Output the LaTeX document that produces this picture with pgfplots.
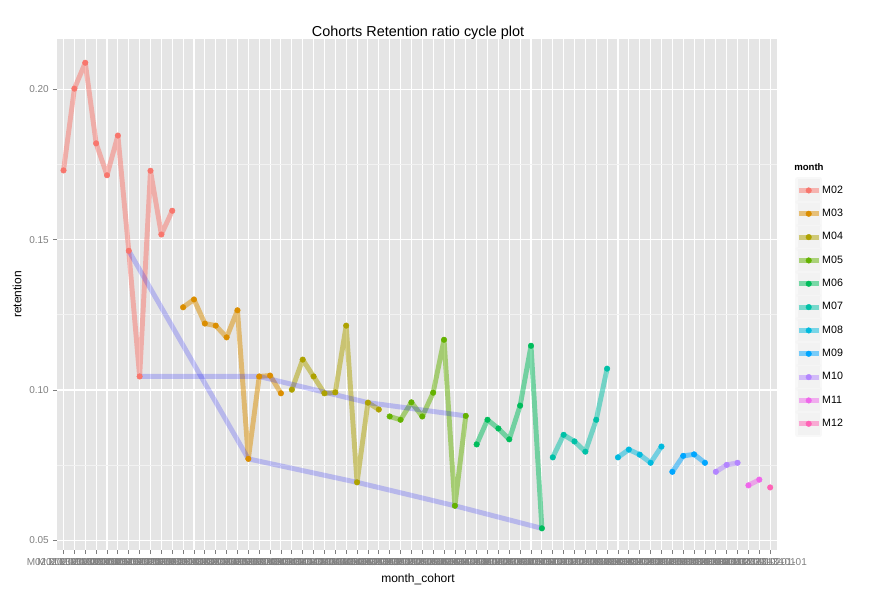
\documentclass[border=0pt]{standalone}
\usepackage{fontspec}
\setmainfont{Liberation Sans}
\usepackage{pgfplots}
\pgfplotsset{compat=1.18}
\definecolor{c02}{HTML}{F8766D}
\definecolor{c03}{HTML}{DB8E00}
\definecolor{c04}{HTML}{AEA200}
\definecolor{c05}{HTML}{64B200}
\definecolor{c06}{HTML}{00BD5C}
\definecolor{c07}{HTML}{00C1A7}
\definecolor{c08}{HTML}{00BADE}
\definecolor{c09}{HTML}{00A6FF}
\definecolor{c10}{HTML}{B385FF}
\definecolor{c11}{HTML}{EF67EB}
\definecolor{c12}{HTML}{FF63B6}
\definecolor{panelbg}{HTML}{E5E5E5}
\definecolor{gridminor}{HTML}{F2F2F2}
\definecolor{legbg}{HTML}{F2F2F2}
\definecolor{tickgray}{HTML}{7F7F7F}
\pgfplotsset{ser/.style={color=#1, line width=3.7pt, draw opacity=0.5, line join=round,
  mark=*, mark size=2.1pt, mark options={line width=0.3pt, draw opacity=1, fill opacity=1, fill=#1, draw=#1}}}
\begin{document}
\begin{tikzpicture}
\useasboundingbox (0,0) rectangle (657.75pt,447.75pt);
\begin{axis}[
  at={(42.75pt,35.25pt)}, anchor=south west,
  scale only axis, width=539.775pt, height=383.25pt,
  xmin=-0.6, xmax=65.6, ymin=0.0468, ymax=0.2167,
  axis background/.style={fill=panelbg},
  axis line style={draw=none},
  xtick={0,...,65},
  xticklabels={M02.2013-01-01,M02.2013-02-01,M02.2013-03-01,M02.2013-04-01,M02.2013-05-01,M02.2013-06-01,M02.2013-07-01,M02.2013-08-01,M02.2013-09-01,M02.2013-10-01,M02.2013-11-01,
  M03.2013-01-01,M03.2013-02-01,M03.2013-03-01,M03.2013-04-01,M03.2013-05-01,M03.2013-06-01,M03.2013-07-01,M03.2013-08-01,M03.2013-09-01,M03.2013-10-01,
  M04.2013-01-01,M04.2013-02-01,M04.2013-03-01,M04.2013-04-01,M04.2013-05-01,M04.2013-06-01,M04.2013-07-01,M04.2013-08-01,M04.2013-09-01,
  M05.2013-01-01,M05.2013-02-01,M05.2013-03-01,M05.2013-04-01,M05.2013-05-01,M05.2013-06-01,M05.2013-07-01,M05.2013-08-01,
  M06.2013-01-01,M06.2013-02-01,M06.2013-03-01,M06.2013-04-01,M06.2013-05-01,M06.2013-06-01,M06.2013-07-01,
  M07.2013-01-01,M07.2013-02-01,M07.2013-03-01,M07.2013-04-01,M07.2013-05-01,M07.2013-06-01,
  M08.2013-01-01,M08.2013-02-01,M08.2013-03-01,M08.2013-04-01,M08.2013-05-01,
  M09.2013-01-01,M09.2013-02-01,M09.2013-03-01,M09.2013-04-01,
  M10.2013-01-01,M10.2013-02-01,M10.2013-03-01,
  M11.2013-01-01,M11.2013-02-01,
  M12.2013-01-01},
  ytick={0.05,0.10,0.15,0.20}, yticklabels={0.05,0.10,0.15,0.20},
  minor ytick={0.075,0.125,0.175},
  xmajorgrids, ymajorgrids, yminorgrids,
  major grid style={white, line width=0.8pt},
  minor grid style={gridminor, line width=0.5pt},
  tick align=outside, major tick length=3pt, minor tick length=0pt,
  tick style={tickgray, line width=0.6pt},
  xtick pos=left, ytick pos=left,
  ticklabel style={font=\fontsize{7.5}{8}\selectfont, text=tickgray, inner sep=0pt},
  xticklabel style={anchor=north, yshift=-3pt},
  yticklabel style={anchor=east, xshift=-3pt},
  legend cell align=left,
  legend style={at={(1.0254,0.7305)}, anchor=north west, draw=none, fill=none, inner sep=0pt,
    row sep=-2.7pt, font=\fontsize{8}{9}\selectfont, nodes={inner sep=0pt},
    /tikz/every even column/.append style={column sep=2.5pt}},
  legend image code/.code={
    \fill[legbg] (0pt,-8.25pt) rectangle (16.5pt,8.25pt);
    \draw[mark repeat=2,mark phase=2,#1] plot coordinates {(0.75pt,0pt) (8.25pt,0pt) (15.75pt,0pt)};
  },
]
\addplot[ser=c02] coordinates {(0,0.1730)(1,0.2002)(2,0.2088)(3,0.1820)(4,0.1714)(5,0.1846)(6,0.1463)(7,0.1045)(8,0.1729)(9,0.1517)(10,0.1596)};
\addlegendentry{M02}
\addplot[ser=c03] coordinates {(11,0.1275)(12,0.1301)(13,0.1221)(14,0.1214)(15,0.1175)(16,0.1265)(17,0.0771)(18,0.1045)(19,0.1048)(20,0.0989)};
\addlegendentry{M03}
\addplot[ser=c04] coordinates {(21,0.1001)(22,0.1101)(23,0.1045)(24,0.0989)(25,0.0992)(26,0.1214)(27,0.0693)(28,0.0958)(29,0.0935)};
\addlegendentry{M04}
\addplot[ser=c05] coordinates {(30,0.0912)(31,0.0901)(32,0.0959)(33,0.0912)(34,0.0991)(35,0.1167)(36,0.0615)(37,0.0914)};
\addlegendentry{M05}
\addplot[ser=c06] coordinates {(38,0.0819)(39,0.0901)(40,0.0872)(41,0.0836)(42,0.0948)(43,0.1147)(44,0.0540)};
\addlegendentry{M06}
\addplot[ser=c07] coordinates {(45,0.0776)(46,0.0851)(47,0.0829)(48,0.0795)(49,0.0901)(50,0.1071)};
\addlegendentry{M07}
\addplot[ser=c08] coordinates {(51,0.0776)(52,0.0802)(53,0.0785)(54,0.0758)(55,0.0812)};
\addlegendentry{M08}
\addplot[ser=c09] coordinates {(56,0.0728)(57,0.0781)(58,0.0786)(59,0.0758)};
\addlegendentry{M09}
\addplot[ser=c10] coordinates {(60,0.0728)(61,0.0751)(62,0.0758)};
\addlegendentry{M10}
\addplot[ser=c11] coordinates {(63,0.0683)(64,0.0702)};
\addlegendentry{M11}
\addplot[ser=c12] coordinates {(65,0.0676)};
\addlegendentry{M12}
\addplot[blue, line width=3.7pt, opacity=0.2, line join=round, mark=none, forget plot] coordinates {(6,0.1463)(17,0.0771)(27,0.0693)(36,0.0615)(44,0.0540)};
\addplot[blue, line width=3.7pt, opacity=0.2, line join=round, mark=none, forget plot] coordinates {(7,0.1045)(18,0.1045)(28,0.0958)(37,0.0914)};
\end{axis}
\node[font=\fontsize{10.8}{13}\selectfont] at (313.5pt,423.5pt) {Cohorts Retention ratio cycle plot};
\node[font=\fontsize{9}{11}\selectfont] at (313.5pt,13.5pt) {month\_cohort};
\node[font=\fontsize{9}{11}\selectfont, rotate=90] at (12.75pt,226.9pt) {retention};
\node[font=\bfseries\fontsize{7.2}{9}\selectfont, anchor=west, inner sep=0pt] at (595.5pt,322.3pt) {month};
\end{tikzpicture}
\end{document}
